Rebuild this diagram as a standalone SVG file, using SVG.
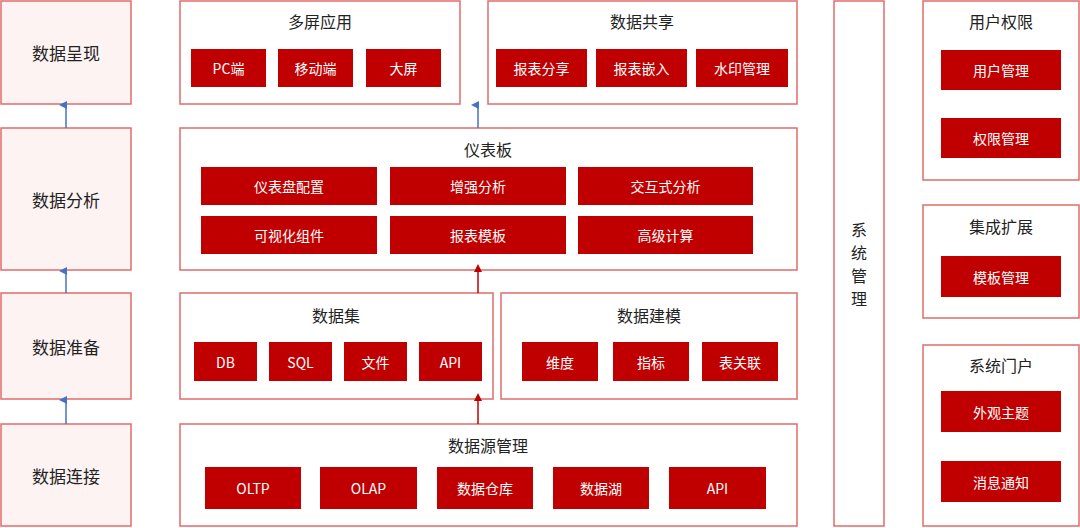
<svg xmlns="http://www.w3.org/2000/svg" width="1080" height="528" viewBox="0 0 1080 528">
<style>
text{font-family:"Noto Sans CJK SC","Noto Sans",sans-serif;text-anchor:middle;dominant-baseline:central}
.l{fill:#fdf3f3;stroke:#e06c6c;stroke-width:1.5}
.o{fill:#fff;stroke:#e06c6c;stroke-width:1.5}
.i{fill:#c00000}
.t{font-size:16px;fill:#222}
.lt{font-size:17px;fill:#222}
.w{font-size:14px;fill:#fff}
</style>
<defs>
<marker id="ab" markerWidth="8" markerHeight="8" refX="4" refY="7" orient="auto" markerUnits="userSpaceOnUse" viewBox="0 0 8 8"><path d="M0,8L4,0L8,8z" fill="#4472c4" transform="rotate(0)"/></marker>
<marker id="ar" markerWidth="8" markerHeight="8" refX="4" refY="7" markerUnits="userSpaceOnUse" viewBox="0 0 8 8"><path d="M0,8L4,0L8,8z" fill="#c00000"/></marker>
</defs>
<g id="n-present"><rect class="l" x="1" y="1" width="130" height="103"/><text class="lt" x="66" y="52">数据呈现</text></g>
<g id="n-analysis"><rect class="l" x="1" y="128" width="130" height="142"/><text class="lt" x="66" y="199">数据分析</text></g>
<g id="n-prep"><rect class="l" x="1" y="293" width="130" height="106"/><text class="lt" x="66" y="346">数据准备</text></g>
<g id="n-conn"><rect class="l" x="1" y="424" width="130" height="102"/><text class="lt" x="66" y="475">数据连接</text></g>

<g id="n-multi"><rect class="o" x="180" y="1" width="280" height="103"/><text class="t" x="320" y="21">多屏应用</text>
<rect class="i" x="191" y="49" width="75" height="38"/><text class="w" x="228.5" y="68">PC端</text>
<rect class="i" x="278" y="49" width="75" height="38"/><text class="w" x="315.5" y="68">移动端</text>
<rect class="i" x="366" y="49" width="75" height="38"/><text class="w" x="403.5" y="68">大屏</text></g>
<g id="n-share"><rect class="o" x="488" y="1" width="309" height="103"/><text class="t" x="642" y="21">数据共享</text>
<rect class="i" x="496" y="49" width="91" height="38"/><text class="w" x="541.5" y="68">报表分享</text>
<rect class="i" x="596" y="49" width="91" height="38"/><text class="w" x="641.5" y="68">报表嵌入</text>
<rect class="i" x="696" y="49" width="92" height="38"/><text class="w" x="742" y="68">水印管理</text></g>
<g id="n-dash"><rect class="o" x="180" y="128" width="617" height="142"/><text class="t" x="488" y="149">仪表板</text>
<rect class="i" x="201" y="167" width="176" height="38"/><text class="w" x="289" y="186">仪表盘配置</text>
<rect class="i" x="390" y="167" width="176" height="38"/><text class="w" x="478" y="186">增强分析</text>
<rect class="i" x="578" y="167" width="175" height="38"/><text class="w" x="665.5" y="186">交互式分析</text>
<rect class="i" x="201" y="216" width="176" height="38"/><text class="w" x="289" y="235">可视化组件</text>
<rect class="i" x="390" y="216" width="176" height="38"/><text class="w" x="478" y="235">报表模板</text>
<rect class="i" x="578" y="216" width="175" height="38"/><text class="w" x="665.5" y="235">高级计算</text></g>
<g id="n-dataset"><rect class="o" x="180" y="293" width="313" height="106"/><text class="t" x="336" y="315">数据集</text>
<rect class="i" x="194" y="342" width="63" height="39"/><text class="w" x="225.5" y="361.5">DB</text>
<rect class="i" x="269" y="342" width="63" height="39"/><text class="w" x="300.5" y="361.5">SQL</text>
<rect class="i" x="344" y="342" width="63" height="39"/><text class="w" x="375.5" y="361.5">文件</text>
<rect class="i" x="419" y="342" width="63" height="39"/><text class="w" x="450.5" y="361.5">API</text></g>
<g id="n-model"><rect class="o" x="501" y="293" width="296" height="106"/><text class="t" x="649" y="315">数据建模</text>
<rect class="i" x="522" y="342" width="76" height="39"/><text class="w" x="560" y="361.5">维度</text>
<rect class="i" x="613" y="342" width="76" height="39"/><text class="w" x="651" y="361.5">指标</text>
<rect class="i" x="702" y="342" width="76" height="39"/><text class="w" x="740" y="361.5">表关联</text></g>
<g id="n-source"><rect class="o" x="180" y="424" width="617" height="102"/><text class="t" x="488" y="445">数据源管理</text>
<rect class="i" x="205" y="467" width="96" height="42"/><text class="w" x="253" y="488">OLTP</text>
<rect class="i" x="320" y="467" width="97" height="42"/><text class="w" x="368.5" y="488">OLAP</text>
<rect class="i" x="437" y="467" width="96" height="42"/><text class="w" x="485" y="488">数据仓库</text>
<rect class="i" x="553" y="467" width="96" height="42"/><text class="w" x="601" y="488">数据湖</text>
<rect class="i" x="669" y="467" width="97" height="42"/><text class="w" x="717.5" y="488">API</text></g>

<g id="n-sys"><rect class="o" x="834" y="1" width="50" height="525"/>
<text class="t" x="859" y="229">系</text><text class="t" x="859" y="252">统</text><text class="t" x="859" y="275">管</text><text class="t" x="859" y="298">理</text></g>

<g id="n-user"><rect class="o" x="923" y="1" width="156" height="179"/><text class="t" x="1001" y="21">用户权限</text>
<rect class="i" x="941" y="50" width="120" height="40"/><text class="w" x="1001" y="70">用户管理</text>
<rect class="i" x="941" y="118" width="120" height="40"/><text class="w" x="1001" y="138">权限管理</text></g>
<g id="n-integ"><rect class="o" x="923" y="205" width="156" height="113"/><text class="t" x="1001" y="226">集成扩展</text>
<rect class="i" x="941" y="256" width="120" height="41"/><text class="w" x="1001" y="276.5">模板管理</text></g>
<g id="n-portal"><rect class="o" x="923" y="345" width="156" height="181"/><text class="t" x="1001" y="365">系统门户</text>
<rect class="i" x="941" y="391" width="120" height="41"/><text class="w" x="1001" y="411.5">外观主题</text>
<rect class="i" x="941" y="461" width="120" height="41"/><text class="w" x="1001" y="481.5">消息通知</text></g>

<g id="connectors" stroke-width="1.5" fill="none">
<line x1="66" y1="128" x2="66" y2="105" stroke="#4472c4" marker-end="url(#ab)"/>
<line x1="66" y1="293" x2="66" y2="271" stroke="#4472c4" marker-end="url(#ab)"/>
<line x1="66" y1="424" x2="66" y2="400" stroke="#4472c4" marker-end="url(#ab)"/>
<line x1="478" y1="128" x2="478" y2="105" stroke="#4472c4" marker-end="url(#ab)"/>
<line x1="478" y1="293" x2="478" y2="271" stroke="#c00000" marker-end="url(#ar)"/>
<line x1="478" y1="424" x2="478" y2="400" stroke="#c00000" marker-end="url(#ar)"/>
</g>
</svg>
